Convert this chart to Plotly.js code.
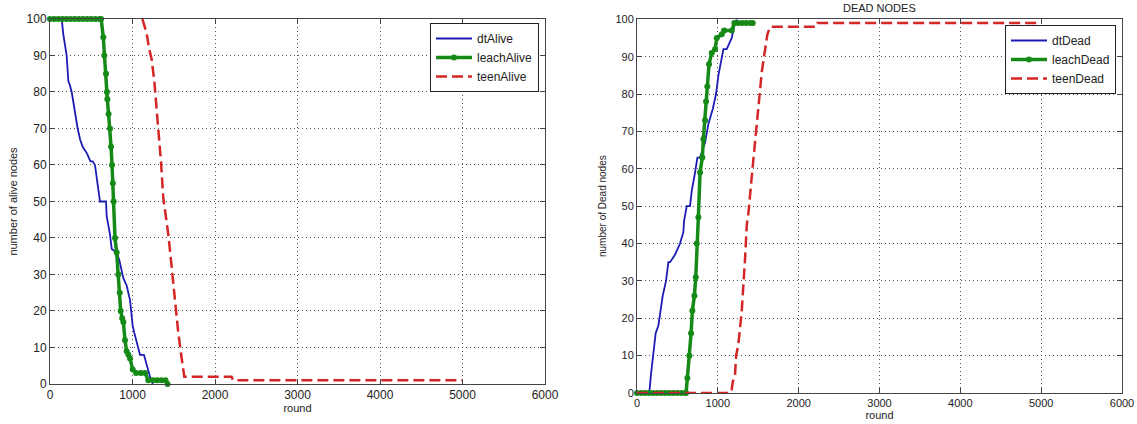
<!DOCTYPE html>
<html>
<head>
<meta charset="utf-8">
<script src="https://cdn.plot.ly/plotly-3.0.1.min.js"></script>
<style>html,body{margin:0;padding:0;background:#fff;}#chart{width:1137px;height:424px;}</style>
</head>
<body>
<div id="chart"></div>
<script>
// ---------- ALIVE NODES (left) ----------
const dtAliveRound = [0,142,160,185,202,222,240,263,290,307,335,365,396,425,452,490,517,545,570,585,606,679,687,727,748,808,840,889,929,970,1002,1022,1070,1091,1139,1172,1212,1232,1245];
const dtAliveValue = [100,100,96,92,90,83,82,80,76,74,70,67,65,64,63,61,61,60,56,53,50,50,46,41,37,36,34,29,27,23,16,14,10,8,8,5,2,1,0];

const leachAliveRound = [0,50,100,150,200,250,300,350,400,450,500,550,600,620,646,658,679,690,695,710,727,740,752,762,772,788,808,828,845,857,875,889,909,929,950,970,1002,1043,1100,1152,1192,1250,1300,1350,1400,1425];
const leachAliveValue = [100,100,100,100,100,100,100,100,100,100,100,100,100,100,95,90,85,80,78,74,70,65,60,55,50,40,36,30,25,20,18,17,12,9,8,7,4,3,3,3,1,1,1,1,1,0];

const teenAliveRound = [1120,1150,1172,1200,1232,1264,1290,1313,1345,1373,1414,1434,1475,1515,1555,1596,1628,1650,2200,2220,5000];
const teenAliveValue = [100,98,96,92,89,83,76,70,61,51,45,41,32,23,14,7,2,2,2,1,1];

// ---------- DEAD NODES (right) ----------
const dtDeadRound = [0,152,173,202,231,264,293,318,359,388,409,470,532,573,582,615,656,677,718,747,780,842,883,937,978,1007,1069,1110,1172,1201,1234];
const dtDeadValue = [0,0,5,10,16,18,23,26,30,35,35,37,40,43,46,50,50,54,59,63,63,67,72,76,80,85,92,92,95,98,100];

const leachDeadRound = [0,50,100,150,200,250,300,350,400,450,500,550,600,607,623,648,669,685,710,727,739,759,780,808,821,842,854,870,891,925,966,987,1049,1078,1172,1205,1250,1300,1350,1400,1432];
const leachDeadValue = [0,0,0,0,0,0,0,0,0,0,0,0,0,0,4,10,16,22,26,31,40,47,59,63,68,73,78,82,88,91,92,95,96,97,97,99,99,99,99,99,99];

const teenDeadRound = [0,1110,1130,1172,1185,1213,1226,1254,1296,1316,1337,1358,1378,1420,1461,1502,1544,1585,1613,1647,2216,2232,5000];
const teenDeadValue = [0,0,1,1,3,5,10,13,22,28,36,45,48,58,68,77,86,92,96,98,98,99,99];

const xTicks = [0,1000,2000,3000,4000,5000,6000];
const yTicks = [0,10,20,30,40,50,60,70,80,90,100];

const BLUE = '#1c1cb4';
const GREEN = '#168a16';
const RED = '#d42626';
const FONT = 'Liberation Sans, Arial, sans-serif';
const DASH = '11px,5px';

const traces = [
  {x: dtAliveRound, y: dtAliveValue, name: 'dtAlive', mode: 'lines', line: {color: BLUE, width: 1.8}, xaxis: 'x', yaxis: 'y', legend: 'legend'},
  {x: leachAliveRound, y: leachAliveValue, name: 'leachAlive', mode: 'lines+markers', line: {color: GREEN, width: 3.5}, marker: {color: GREEN, size: 6}, xaxis: 'x', yaxis: 'y', legend: 'legend'},
  {x: teenAliveRound, y: teenAliveValue, name: 'teenAlive', mode: 'lines', line: {color: RED, width: 2.5, dash: DASH}, xaxis: 'x', yaxis: 'y', legend: 'legend'},
  {x: dtDeadRound, y: dtDeadValue, name: 'dtDead', mode: 'lines', line: {color: BLUE, width: 1.8}, xaxis: 'x2', yaxis: 'y2', legend: 'legend2'},
  {x: leachDeadRound, y: leachDeadValue, name: 'leachDead', mode: 'lines+markers', line: {color: GREEN, width: 3.5}, marker: {color: GREEN, size: 6}, xaxis: 'x2', yaxis: 'y2', legend: 'legend2'},
  {x: teenDeadRound, y: teenDeadValue, name: 'teenDead', mode: 'lines', line: {color: RED, width: 2.5, dash: DASH}, xaxis: 'x2', yaxis: 'y2', legend: 'legend2'}
];
traces.forEach(t => { t.cliponaxis = false; });

function axisBase(fs) {
  return {
    showline: true, linecolor: '#444', linewidth: 1, mirror: 'allticks',
    ticks: 'inside', ticklen: 5, tickcolor: '#444', tickwidth: 1,
    showgrid: true, gridcolor: '#555', griddash: '1px,3px', gridwidth: 1,
    zeroline: false,
    tickfont: {family: FONT, size: fs, color: '#222'},
    fixedrange: true
  };
}

const xa = Object.assign(axisBase(12), {domain: [0.04398, 0.47933], range: [0, 6000], tickvals: xTicks, anchor: 'y',
  title: {text: 'round', font: {family: FONT, size: 11, color: '#222'}, standoff: 2}});
const ya = Object.assign(axisBase(12), {domain: [0.09434, 0.95519], range: [0, 100], tickvals: yTicks, anchor: 'x',
  title: {text: 'number of alive nodes', font: {family: FONT, size: 11, color: '#222'}, standoff: 6}});
const xa2 = Object.assign(axisBase(11), {domain: [0.56025, 0.98681], range: [0, 6000], tickvals: xTicks, anchor: 'y2',
  title: {text: 'round', font: {family: FONT, size: 11, color: '#222'}, standoff: 2}});
const ya2 = Object.assign(axisBase(11), {domain: [0.07311, 0.95448], range: [0, 100], tickvals: yTicks, anchor: 'x2',
  title: {text: 'number of Dead nodes', font: {family: FONT, size: 10, color: '#222'}, standoff: 6}});

const legendStyle = {
  bgcolor: '#fff', bordercolor: '#222', borderwidth: 1,
  font: {family: FONT, size: 12, color: '#222'},
  xanchor: 'right', yanchor: 'top', tracegroupgap: 0, itemwidth: 36
};

const layout = {
  width: 1137, height: 424,
  margin: {l: 0, r: 0, t: 0, b: 0},
  paper_bgcolor: '#fff', plot_bgcolor: '#fff',
  showlegend: true,
  xaxis: xa, yaxis: ya, xaxis2: xa2, yaxis2: ya2,
  legend: Object.assign({}, legendStyle, {x: 539/1137, y: (424-23)/424}),
  legend2: Object.assign({}, legendStyle, {x: 1116/1137, y: (424-25)/424}),
  annotations: [{
    text: 'DEAD NODES', xref: 'paper', yref: 'paper', x: 879.5/1137, y: (424-8)/424,
    xanchor: 'center', yanchor: 'middle', showarrow: false,
    font: {family: FONT, size: 11, color: '#222'}
  }]
};

Plotly.newPlot('chart', traces, layout, {displayModeBar: false, staticPlot: true});
</script>
</body>
</html>
